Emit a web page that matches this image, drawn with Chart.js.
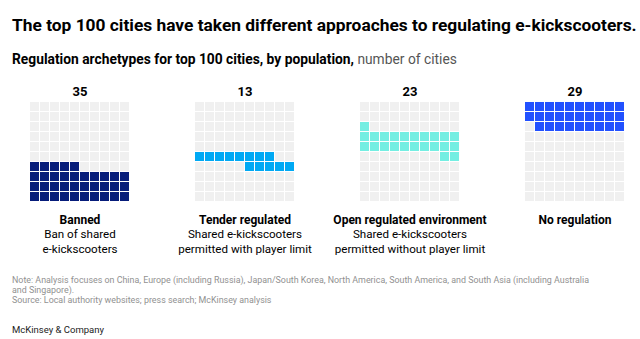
<!DOCTYPE html>
<html>
<head>
<meta charset="utf-8">
<script src="https://cdn.jsdelivr.net/npm/chart.js@4/dist/chart.umd.min.js"></script>
<style>
  body {
    margin: 0;
    width: 640px;
    height: 339px;
    background: #fff;
    font-family: Roboto, "Liberation Sans", sans-serif;
    color: #000;
    position: relative;
    overflow: hidden;
  }
  .abs { position: absolute; white-space: nowrap; }
  #title { left: 12px; top: 15px; font-size: 17.35px; font-weight: 700; }
  #subtitle { left: 12px; top: 51px; font-size: 13.8px; font-weight: 700; }
  #subtitle span { font-weight: 400; color: #555; }
  .count { width: 160px; text-align: center; top: 84px; font-size: 13px; font-weight: 700; }
  .grid { position: absolute; top: 101px; }
  .label { width: 180px; text-align: center; top: 213px; font-size: 11.6px; line-height: 14.3px; }
  .label b { font-weight: 700; font-size: 12px; }
  #note { left: 12px; top: 274.5px; font-size: 8.9px; line-height: 10px; color: #919191; }
  #brand { left: 12px; top: 324px; font-size: 9.5px; color: #222; }
</style>
</head>
<body>
<div id="title" class="abs">The top 100 cities have taken different approaches to regulating e-kickscooters.</div>
<div id="subtitle" class="abs">Regulation archetypes for top 100 cities, by population, <span>number of cities</span></div>
<div id="charts"></div>
<div id="note" class="abs">Note: Analysis focuses on China, Europe (including Russia), Japan/South Korea, North America, South America, and South Asia (including Australia<br>and Singapore).<br>Source: Local authority websites; press search; McKinsey analysis</div>
<div id="brand" class="abs">McKinsey &amp; Company</div>

<script>
const categories = ["Banned", "Tender regulated", "Open regulated environment", "No regulation"]
const descriptions = [
  ["Ban of shared", "e-kickscooters"],
  ["Shared e-kickscooters", "permitted with player limit"],
  ["Shared e-kickscooters", "permitted without player limit"],
  []
]
const cityCounts = [35, 13, 23, 29]
const fillColors = ["#071d7a", "#00a9f4", "#74eee2", "#2251ff"]
const emptyColor = "#f0f0f0"
const gridLefts = [30, 195, 360, 525]

const container = document.getElementById("charts")

// the 100 cells are shared: last category fills from the top-right, right to left
function startIndex(i) {
  let start = 0
  for (let j = i + 1; j < cityCounts.length; j++) {
    start += cityCounts[j]
  }
  return start
}

function makeWaffle(i) {
  const left = gridLefts[i]
  const center = left + 50

  const count = document.createElement("div")
  count.className = "abs count"
  count.style.left = `${center - 80}px`
  count.textContent = cityCounts[i]
  document.body.appendChild(count)

  const label = document.createElement("div")
  label.className = "abs label"
  label.style.left = `${center - 90}px`
  label.innerHTML = `<b>${categories[i]}</b>` +
    descriptions[i].map(line => `<br>${line}`).join("")
  document.body.appendChild(label)

  const canvas = document.createElement("canvas")
  canvas.className = "grid"
  canvas.width = 100
  canvas.height = 100
  canvas.style.left = `${left}px`
  canvas.style.width = "100px"
  canvas.style.height = "100px"
  container.appendChild(canvas)

  const start = startIndex(i)
  const end = start + cityCounts[i]
  const columns = [0, 1, 2, 3, 4, 5, 6, 7, 8, 9]

  const datasets = columns.map(d => {
    const row = 9 - d
    return {
      data: columns.map(() => 1),
      backgroundColor: columns.map(col => {
        const k = row * 10 + (9 - col)
        return k >= start && k < end ? fillColors[i] : emptyColor
      }),
      borderColor: "#ffffff",
      borderWidth: { top: 1, right: 1, bottom: 0, left: 0 },
      borderSkipped: false,
      inflateAmount: 0,
      categoryPercentage: 1,
      barPercentage: 1
    }
  })

  new Chart(canvas, {
    type: "bar",
    data: { labels: columns, datasets },
    options: {
      responsive: false,
      animation: false,
      events: [],
      layout: { padding: 0 },
      plugins: { legend: { display: false }, tooltip: { enabled: false } },
      scales: {
        x: { stacked: true, display: false },
        y: { stacked: true, display: false, min: 0, max: 10 }
      }
    }
  })
}

categories.forEach((_, i) => makeWaffle(i))
</script>
</body>
</html>
